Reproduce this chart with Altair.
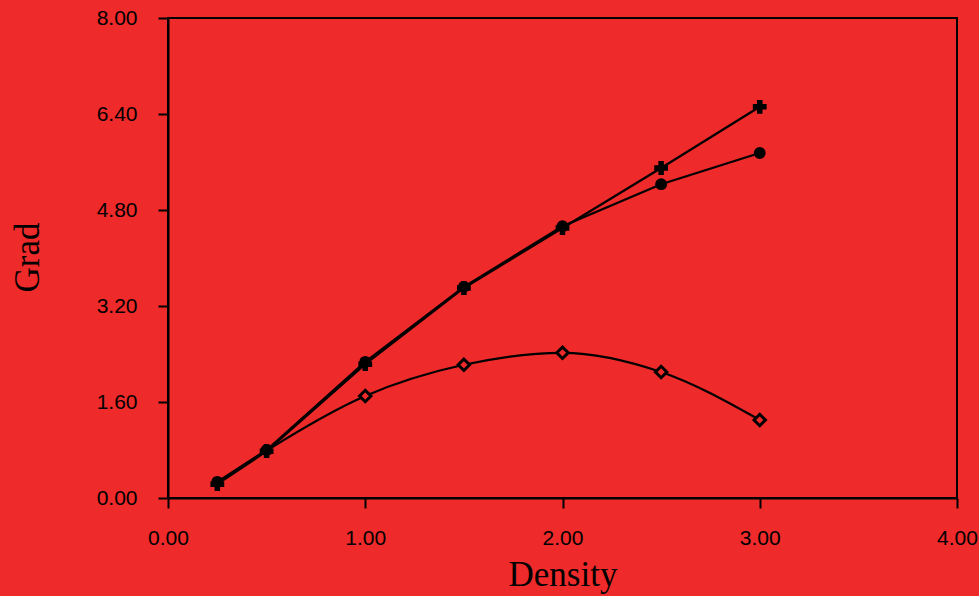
import altair as alt
import pandas as pd

density = [0.25, 0.5, 1.0, 1.5, 2.0, 2.5, 3.0]
grad_circle = [0.27, 0.80, 2.27, 3.52, 4.53, 5.23, 5.75]
grad_plus = [0.23, 0.78, 2.23, 3.50, 4.50, 5.50, 6.52]
grad_diamond = [0.25, 0.79, 1.70, 2.22, 2.42, 2.10, 1.30]

x_ticks = [0.0, 1.0, 2.0, 3.0, 4.0]
y_ticks = [0.0, 1.6, 3.2, 4.8, 6.4, 8.0]

RED = "#EE2A2A"

df_c = pd.DataFrame({"Density": density, "Grad": grad_circle})
df_p = pd.DataFrame({"Density": density, "Grad": grad_plus})
df_d = pd.DataFrame({"Density": density, "Grad": grad_diamond})

xs = alt.Scale(domain=[0, 4], nice=False)
ys = alt.Scale(domain=[0, 8], nice=False)

x_axis = alt.Axis(values=x_ticks, format=".2f", title="Density", grid=False,
                  tickSize=10, tickWidth=2, domainWidth=2, domainColor="black",
                  tickColor="black", labelFont="Liberation Sans", labelFontSize=21,
                  labelColor="black", labelPadding=19, labelFlush=False,
                  titleFont="Liberation Serif", titleFontSize=35, titleFontWeight="normal",
                  titleColor="black", titleX=394.5, titleY=87, titleBaseline="alphabetic",
                  titleAlign="center")
y_axis = alt.Axis(values=y_ticks, format=".2f", title="Grad", grid=False,
                  tickSize=10, tickWidth=2, domainWidth=2, domainColor="black",
                  tickColor="black", labelFont="Liberation Sans", labelFontSize=21,
                  labelColor="black", labelPadding=21, labelFlush=False,
                  titleFont="Liberation Serif", titleFontSize=35, titleFontWeight="normal",
                  titleColor="black", titleX=-130, titleY=239, titleAngle=270,
                  titleBaseline="alphabetic", titleAlign="center")

line_d = alt.Chart(df_d).mark_line(color="black", strokeWidth=2.2, interpolate="monotone")
pts_d = alt.Chart(df_d[df_d["Density"] >= 1.0]).mark_point(
    shape="diamond", size=130, filled=True, fill=RED, stroke="black", strokeWidth=3, opacity=1)
line_p = alt.Chart(df_p).mark_line(color="black", strokeWidth=2.2)
pts_p = alt.Chart(df_p).mark_point(shape="cross", size=190, filled=True, color="black", opacity=1)
line_c = alt.Chart(df_c).mark_line(color="black", strokeWidth=2.2)
pts_c = alt.Chart(df_c).mark_point(shape="circle", size=140, filled=True, color="black", opacity=1)

chart = alt.layer(line_d, pts_d, line_p, pts_p, line_c, pts_c).encode(
    x=alt.X("Density:Q", scale=xs, axis=x_axis),
    y=alt.Y("Grad:Q", scale=ys, axis=y_axis),
).properties(
    width=789, height=480,
    autosize=alt.AutoSizeParams(type="none"),
    padding={"left": 168, "top": 18, "right": 22, "bottom": 98},
    background=RED,
).configure_view(stroke="black", strokeWidth=2, fill=RED)

chart.save("out.html", embed_options={"renderer": "svg", "actions": False})
